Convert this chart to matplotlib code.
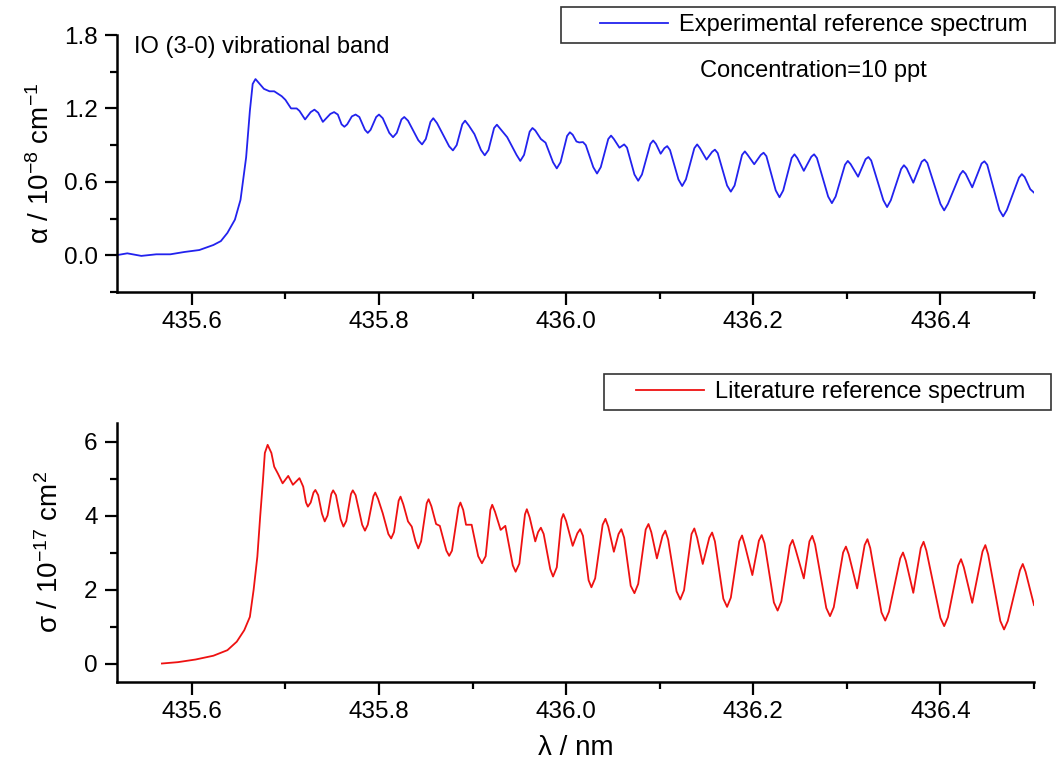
import numpy as np
import matplotlib
matplotlib.use('Agg')
import matplotlib.pyplot as plt
from matplotlib.patches import Rectangle
from matplotlib.ticker import MultipleLocator, FormatStrFormatter

plt.rcParams['font.family'] = ['Liberation Sans', 'DejaVu Sans']
plt.rcParams['mathtext.fontset'] = 'custom'
plt.rcParams['mathtext.rm'] = 'Liberation Sans'
plt.rcParams['mathtext.it'] = 'Liberation Sans:italic'

# Experimental IO spectrum
wl_exp = [435.519, 435.531, 435.546, 435.562, 435.577, 435.592, 435.608, 435.623,
          435.631, 435.638, 435.646, 435.652, 435.658, 435.662, 435.665, 435.668,
          435.677, 435.683, 435.688, 435.696, 435.700, 435.706, 435.712, 435.715,
          435.721, 435.727, 435.731, 435.735, 435.740, 435.748, 435.752, 435.756,
          435.760, 435.763, 435.766, 435.771, 435.775, 435.779, 435.785, 435.788,
          435.791, 435.797, 435.800, 435.804, 435.811, 435.815, 435.819, 435.824,
          435.827, 435.831, 435.842, 435.846, 435.850, 435.855, 435.858, 435.862,
          435.875, 435.879, 435.883, 435.889, 435.892, 435.896, 435.902, 435.909,
          435.913, 435.917, 435.923, 435.926, 435.930, 435.937, 435.947, 435.951,
          435.955, 435.961, 435.964, 435.967, 435.973, 435.978, 435.986, 435.990,
          435.994, 436.001, 436.004, 436.007, 436.011, 436.014, 436.018, 436.021,
          436.029, 436.033, 436.037, 436.045, 436.048, 436.051, 436.057, 436.062,
          436.065, 436.073, 436.077, 436.081, 436.090, 436.093, 436.096, 436.101,
          436.105, 436.108, 436.111, 436.120, 436.124, 436.128, 436.137, 436.140,
          436.143, 436.150, 436.156, 436.159, 436.162, 436.172, 436.176, 436.180,
          436.188, 436.191, 436.194, 436.201, 436.208, 436.211, 436.214, 436.224,
          436.228, 436.232, 436.241, 436.244, 436.247, 436.254, 436.262, 436.265,
          436.268, 436.280, 436.284, 436.288, 436.298, 436.301, 436.304, 436.312,
          436.320, 436.323, 436.326, 436.339, 436.343, 436.347, 436.358, 436.361,
          436.364, 436.371, 436.380, 436.383, 436.386, 436.400, 436.404, 436.408,
          436.421, 436.424, 436.427, 436.434, 436.444, 436.447, 436.450, 436.463,
          436.467, 436.471, 436.484, 436.487, 436.490, 436.496, 436.500]
alpha_exp = [0.000, 0.016, -0.005, 0.008, 0.008, 0.027, 0.043, 0.084,
             0.116, 0.183, 0.291, 0.453, 0.800, 1.180, 1.400, 1.440,
             1.360, 1.340, 1.340, 1.300, 1.270, 1.200, 1.200, 1.180,
             1.110, 1.170, 1.190, 1.165, 1.090, 1.155, 1.170, 1.150,
             1.070, 1.050, 1.070, 1.135, 1.150, 1.130, 1.025, 1.000,
             1.025, 1.130, 1.150, 1.120, 1.000, 0.965, 1.000, 1.110,
             1.130, 1.100, 0.940, 0.906, 0.950, 1.090, 1.120, 1.080,
             0.890, 0.857, 0.900, 1.070, 1.100, 1.060, 0.990, 0.860,
             0.817, 0.860, 1.040, 1.067, 1.030, 0.965, 0.820, 0.771,
             0.820, 1.010, 1.040, 1.020, 0.950, 0.920, 0.760, 0.710,
             0.760, 0.975, 1.005, 0.985, 0.930, 0.922, 0.925, 0.900,
             0.720, 0.668, 0.720, 0.950, 0.978, 0.950, 0.879, 0.906,
             0.880, 0.660, 0.609, 0.660, 0.910, 0.938, 0.910, 0.830,
             0.875, 0.892, 0.860, 0.620, 0.566, 0.620, 0.875, 0.906,
             0.875, 0.782, 0.845, 0.863, 0.835, 0.570, 0.520, 0.570,
             0.820, 0.849, 0.820, 0.744, 0.820, 0.838, 0.810, 0.530,
             0.474, 0.530, 0.795, 0.825, 0.795, 0.690, 0.805, 0.825,
             0.795, 0.480, 0.426, 0.480, 0.740, 0.771, 0.745, 0.642,
             0.785, 0.803, 0.775, 0.450, 0.394, 0.450, 0.705, 0.736,
             0.710, 0.593, 0.765, 0.782, 0.755, 0.420, 0.367, 0.420,
             0.660, 0.690, 0.665, 0.555, 0.750, 0.768, 0.740, 0.370,
             0.318, 0.370, 0.635, 0.663, 0.640, 0.540, 0.512]

# Literature cross section
wl_lit = [435.568, 435.585, 435.604, 435.623, 435.638, 435.648, 435.656, 435.662,
          435.666, 435.670, 435.673, 435.676, 435.678, 435.681, 435.685, 435.688,
          435.692, 435.697, 435.703, 435.708, 435.715, 435.719, 435.722, 435.724,
          435.727, 435.730, 435.732, 435.735, 435.739, 435.742, 435.745, 435.749,
          435.751, 435.754, 435.759, 435.762, 435.765, 435.770, 435.772, 435.775,
          435.782, 435.785, 435.788, 435.794, 435.796, 435.799, 435.804, 435.810,
          435.813, 435.816, 435.821, 435.823, 435.826, 435.831, 435.835, 435.839,
          435.842, 435.845, 435.851, 435.853, 435.856, 435.861, 435.865, 435.872,
          435.875, 435.878, 435.885, 435.887, 435.890, 435.893, 435.899, 435.906,
          435.910, 435.914, 435.919, 435.921, 435.924, 435.930, 435.935, 435.943,
          435.946, 435.950, 435.956, 435.958, 435.961, 435.967, 435.970, 435.973,
          435.976, 435.983, 435.986, 435.990, 435.995, 435.997, 436.000, 436.007,
          436.012, 436.015, 436.018, 436.024, 436.027, 436.031, 436.039, 436.042,
          436.045, 436.051, 436.056, 436.059, 436.062, 436.069, 436.073, 436.077,
          436.085, 436.088, 436.091, 436.097, 436.103, 436.106, 436.109, 436.118,
          436.122, 436.126, 436.134, 436.137, 436.140, 436.146, 436.153, 436.156,
          436.159, 436.168, 436.172, 436.176, 436.185, 436.188, 436.191, 436.199,
          436.206, 436.209, 436.212, 436.222, 436.226, 436.230, 436.239, 436.242,
          436.245, 436.254, 436.260, 436.263, 436.266, 436.278, 436.282, 436.286,
          436.296, 436.299, 436.302, 436.311, 436.319, 436.322, 436.325, 436.337,
          436.341, 436.345, 436.357, 436.360, 436.363, 436.371, 436.379, 436.382,
          436.385, 436.400, 436.404, 436.408, 436.419, 436.422, 436.425, 436.434,
          436.445, 436.448, 436.451, 436.464, 436.468, 436.472, 436.485, 436.488,
          436.491, 436.500]
sigma_lit = [0.000, 0.036, 0.108, 0.210, 0.360, 0.590, 0.900, 1.260,
             1.990, 2.890, 3.970, 4.960, 5.690, 5.910, 5.690, 5.320,
             5.130, 4.870, 5.070, 4.830, 5.010, 4.780, 4.350, 4.240,
             4.350, 4.620, 4.690, 4.550, 4.050, 3.840, 4.000, 4.580,
             4.680, 4.550, 3.900, 3.700, 3.850, 4.580, 4.680, 4.550,
             3.750, 3.590, 3.750, 4.520, 4.620, 4.450, 4.060, 3.500,
             3.380, 3.550, 4.400, 4.510, 4.300, 3.840, 3.700, 3.300,
             3.110, 3.300, 4.330, 4.440, 4.250, 3.770, 3.720, 3.050,
             2.910, 3.050, 4.220, 4.350, 4.150, 3.750, 3.750, 2.900,
             2.710, 2.900, 4.150, 4.290, 4.100, 3.610, 3.720, 2.650,
             2.480, 2.700, 4.030, 4.170, 3.950, 3.300, 3.550, 3.670,
             3.500, 2.550, 2.350, 2.600, 3.900, 4.040, 3.850, 3.180,
             3.520, 3.630, 3.450, 2.250, 2.060, 2.300, 3.750, 3.910,
             3.700, 3.020, 3.500, 3.630, 3.400, 2.100, 1.900, 2.150,
             3.620, 3.770, 3.550, 2.840, 3.450, 3.590, 3.350, 1.950,
             1.730, 1.980, 3.500, 3.650, 3.400, 2.690, 3.400, 3.540,
             3.300, 1.750, 1.530, 1.780, 3.300, 3.460, 3.200, 2.390,
             3.320, 3.470, 3.250, 1.650, 1.430, 1.680, 3.180, 3.340,
             3.100, 2.300, 3.300, 3.450, 3.220, 1.500, 1.280, 1.520,
             3.000, 3.160, 2.950, 2.030, 3.200, 3.360, 3.120, 1.380,
             1.160, 1.400, 2.840, 3.000, 2.780, 1.910, 3.120, 3.290,
             3.050, 1.230, 1.010, 1.250, 2.650, 2.820, 2.600, 1.640,
             3.030, 3.200, 2.950, 1.150, 0.920, 1.150, 2.520, 2.690,
             2.480, 1.580]

W, H = 1057, 776
fig = plt.figure(figsize=(W / 100, H / 100), dpi=100)

left, right = 117 / W, 1034 / W
ax1 = fig.add_axes([left, 1 - 292 / H, right - left, (292 - 35) / H])
ax2 = fig.add_axes([left, 1 - 682 / H, right - left, (682 - 423) / H])

ax1.plot(wl_exp, alpha_exp, color='#2222ee', lw=1.3, solid_joinstyle='round')
ax2.plot(wl_lit, sigma_lit, color='#ee1111', lw=1.3, solid_joinstyle='round')

ax1.set_xlim(435.52, 436.5)
ax1.set_ylim(-0.3, 1.8)
ax2.set_xlim(435.52, 436.5)
ax2.set_ylim(-0.5, 6.5)

ax1.yaxis.set_major_locator(MultipleLocator(0.6))
ax1.yaxis.set_minor_locator(MultipleLocator(0.3))
ax1.yaxis.set_major_formatter(FormatStrFormatter('%.1f'))
ax2.yaxis.set_major_locator(MultipleLocator(2))
ax2.yaxis.set_minor_locator(MultipleLocator(1))

for ax in (ax1, ax2):
    ax.xaxis.set_major_locator(MultipleLocator(0.2))
    ax.xaxis.set_minor_locator(MultipleLocator(0.1))
    ax.xaxis.set_major_formatter(FormatStrFormatter('%.1f'))
    ax.spines['top'].set_visible(False)
    ax.spines['right'].set_visible(False)
    ax.spines['left'].set_linewidth(1.8)
    ax.spines['bottom'].set_linewidth(1.8)
    ax.tick_params(which='major', direction='out', length=9, width=1.6,
                   labelsize=17.5, pad=5)
    ax.tick_params(which='minor', direction='out', length=5, width=1.6)

ax1.set_ylabel(r'α / 10$^{-8}$ cm$^{-1}$', fontsize=20, labelpad=6)
ax2.set_ylabel(r'σ / 10$^{-17}$ cm$^{2}$', fontsize=20, labelpad=14)
ax2.set_xlabel('λ / nm', fontsize=20, labelpad=8)

fig.text(134 / W, 1 - 53 / H, 'IO (3-0) vibrational band', fontsize=17, va='baseline')
fig.text(700 / W, 1 - 77 / H, 'Concentration=10 ppt', fontsize=17, va='baseline')

# legends, framed by plain square boxes
ax1.legend(['Experimental reference spectrum'], loc='center left',
           bbox_to_anchor=(600 / W, 1 - 25 / H), bbox_transform=fig.transFigure,
           frameon=False, fontsize=17, handlelength=2.9, handletextpad=0.45,
           borderpad=0, borderaxespad=0)
ax2.legend(['Literature reference spectrum'], loc='center left',
           bbox_to_anchor=(636 / W, 1 - 392 / H), bbox_transform=fig.transFigure,
           frameon=False, fontsize=17, handlelength=2.9, handletextpad=0.45,
           borderpad=0, borderaxespad=0)
fig.patches.append(Rectangle((561 / W, 1 - 43 / H), (1055 - 561) / W, 36 / H,
                             transform=fig.transFigure, fill=False, ec='#333333', lw=1.2))
fig.patches.append(Rectangle((604 / W, 1 - 410 / H), (1051 - 604) / W, 36 / H,
                             transform=fig.transFigure, fill=False, ec='#333333', lw=1.2))

fig.savefig('out.png', dpi=100)
